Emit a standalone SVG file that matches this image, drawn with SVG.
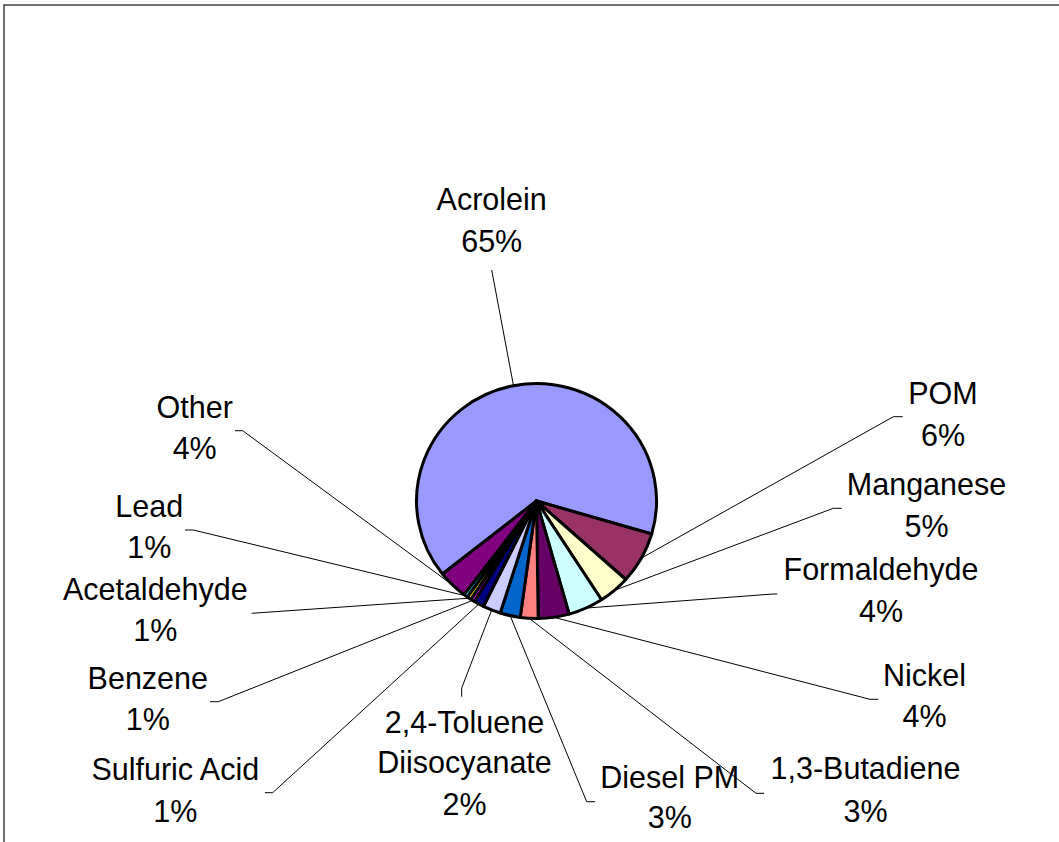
<svg xmlns="http://www.w3.org/2000/svg" width="1059" height="842" viewBox="0 0 1059 842">
<style>
.s{stroke:#000;stroke-width:3;stroke-linejoin:round}
.t{font-family:"Liberation Sans",Arial,sans-serif;font-size:30.5px;fill:#000;text-anchor:middle}
.l{fill:none;stroke:#000;stroke-width:1}
</style>
<rect width="1059" height="842" fill="#fff"/>
<path d="M4,842 V5 H1059" fill="none" stroke="#404040" stroke-width="1.5"/>
<g id="connectors">
<polyline class="l" points="513.5,385.7 491.7,270"/>
<polyline class="l" points="641.4,558.1 893.3,416.7 902.7,416.7"/>
<polyline class="l" points="614.3,590.4 833.3,508.3 841.7,508.3"/>
<polyline class="l" points="585.9,608.1 773,594 777.3,594"/>
<polyline class="l" points="553.8,617.3 870,699.3 878.3,699.3"/>
<polyline class="l" points="529.2,618.3 756,793.3 764,793.3"/>
<polyline class="l" points="510.1,615.6 586.7,801.7 595,801.7"/>
<polyline class="l" points="491.7,610 461.7,688 461.7,696.7"/>
<polyline class="l" points="478.9,604 272.7,792.7 265,792.7"/>
<polyline class="l" points="472.5,600.4 218.3,701.7 210,701.7"/>
<polyline class="l" points="469.1,598.2 251.7,613.3"/>
<polyline class="l" points="465.6,595.8 193.3,530 185,530"/>
<polyline class="l" points="452.5,585 242.7,430.7 235,430.7"/>
</g>
<g id="acrolein"><path class="s" fill="#9999FF" d="M536.5,501 L442.5,574 A120,117.5 0 1 1 651.7,534 Z"/><text class="t" x="491.7" y="210">Acrolein</text><text class="t" x="491.7" y="251.5">65%</text></g>
<g id="pom"><path class="s" fill="#993366" d="M536.5,501 L651.7,534 A120,117.5 0 0 1 625.8,579.5 Z"/><text class="t" x="943" y="404.3">POM</text><text class="t" x="943" y="445.5">6%</text></g>
<g id="manganese"><path class="s" fill="#FFFFCC" d="M536.5,501 L625.8,579.5 A120,117.5 0 0 1 601.5,599.8 Z"/><text class="t" x="926.5" y="495">Manganese</text><text class="t" x="926.5" y="536.5">5%</text></g>
<g id="formaldehyde"><path class="s" fill="#CCFFFF" d="M536.5,501 L601.5,599.8 A120,117.5 0 0 1 569.2,614.1 Z"/><text class="t" x="881" y="580">Formaldehyde</text><text class="t" x="881" y="621.5">4%</text></g>
<g id="nickel"><path class="s" fill="#660066" d="M536.5,501 L569.2,614.1 A120,117.5 0 0 1 538.2,618.5 Z"/><text class="t" x="924.5" y="685.7">Nickel</text><text class="t" x="924.5" y="727.3">4%</text></g>
<g id="butadiene"><path class="s" fill="#FF8080" d="M536.5,501 L538.2,618.5 A120,117.5 0 0 1 520.2,617.4 Z"/><text class="t" x="865.5" y="779.3">1,3-Butadiene</text><text class="t" x="865.5" y="821.7">3%</text></g>
<g id="dieselpm"><path class="s" fill="#0066CC" d="M536.5,501 L520.2,617.4 A120,117.5 0 0 1 500.2,613 Z"/><text class="t" x="669.8" y="787.7">Diesel PM</text><text class="t" x="669.8" y="828.3">3%</text></g>
<g id="toluene"><path class="s" fill="#CCCCFF" d="M536.5,501 L500.2,613 A120,117.5 0 0 1 483.5,606.4 Z"/><text class="t" x="464.5" y="732.7">2,4-Toluene</text><text class="t" x="464.5" y="773.3">Diisocyanate</text><text class="t" x="464.5" y="815">2%</text></g>
<g id="sulfuricacid"><path class="s" fill="#000080" d="M536.5,501 L483.5,606.4 A120,117.5 0 0 1 474.3,601.5 Z"/><text class="t" x="175.3" y="780">Sulfuric Acid</text><text class="t" x="175.3" y="821.7">1%</text></g>
<g id="benzene"><path class="s" fill="#FF00FF" d="M536.5,501 L474.3,601.5 A120,117.5 0 0 1 470.8,599.3 Z"/><text class="t" x="147.8" y="689">Benzene</text><text class="t" x="147.8" y="730">1%</text></g>
<g id="acetaldehyde"><path class="s" fill="#FFFF00" d="M536.5,501 L470.8,599.3 A120,117.5 0 0 1 467.3,597 Z"/><text class="t" x="155.3" y="600">Acetaldehyde</text><text class="t" x="155.3" y="641">1%</text></g>
<g id="lead"><path class="s" fill="#00FFFF" d="M536.5,501 L467.3,597 A120,117.5 0 0 1 464,594.6 Z"/><text class="t" x="149.3" y="516.7">Lead</text><text class="t" x="149.3" y="558.3">1%</text></g>
<g id="other"><path class="s" fill="#800080" d="M536.5,501 L464,594.6 A120,117.5 0 0 1 442.5,574 Z"/><text class="t" x="194.7" y="418.3">Other</text><text class="t" x="194.7" y="459">4%</text></g>
</svg>
